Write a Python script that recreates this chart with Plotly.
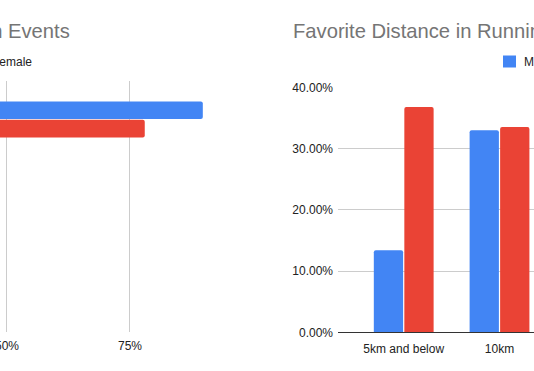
import plotly.graph_objects as go

W, H = 534, 371
BLUE = "#4285F4"
RED = "#EA4335"

# Left chart (horizontal bars) - only the visible category
left_categories = ["Events"]
left_male = [0.898]
left_female = [0.780]

# Right chart (columns)
right_categories = ["5km and below", "10km"]
right_male = [0.134, 0.330]
right_female = [0.368, 0.335]

left_ticks = [0.50, 0.75]
left_ticklabels = ["50%", "75%"]
right_ticks = [0.0, 0.10, 0.20, 0.30, 0.40]
right_ticklabels = ["0.00%", "10.00%", "20.00%", "30.00%", "40.00%"]

def px(x):
    return x / W

def py(y):
    return 1 - y / H

fig = go.Figure()
fig.add_trace(go.Bar(y=left_categories, x=left_male, orientation="h", name="Male",
                     marker=dict(color=BLUE, cornerradius=2, line=dict(width=0)), xaxis="x", yaxis="y"))
fig.add_trace(go.Bar(y=left_categories, x=left_female, orientation="h", name="Female",
                     marker=dict(color=RED, cornerradius=2, line=dict(width=0)), xaxis="x", yaxis="y"))
fig.add_trace(go.Bar(x=right_categories, y=right_male, name="Male",
                     marker=dict(color=BLUE, cornerradius=2, line=dict(width=0)), xaxis="x2", yaxis="y2"))
fig.add_trace(go.Bar(x=right_categories, y=right_female, name="Female",
                     marker=dict(color=RED, cornerradius=2, line=dict(width=0)), xaxis="x2", yaxis="y2"))

font = "Arial, Liberation Sans, sans-serif"

fig.update_layout(
    template="none",
    width=W, height=H, autosize=False,
    margin=dict(l=0, r=0, t=0, b=0, pad=0),
    paper_bgcolor="white", plot_bgcolor="white",
    showlegend=False, hovermode=False,
    barmode="group", bargap=0.363, bargroupgap=0.04,
    font=dict(family=font, size=12, color="#222222"),
    xaxis=dict(domain=[0, px(250)], range=[0.4858, 0.9939], automargin=False,
               tickvals=left_ticks, ticktext=left_ticklabels,
               ticklabeloverflow="allow",
               showgrid=True, gridcolor="#cccccc", gridwidth=1,
               zeroline=False, showline=False, ticks="", ticklabelstandoff=5,
               anchor="y"),
    yaxis=dict(domain=[py(332), py(81)], range=[3.69, -0.667], automargin=False,
               showticklabels=False, showgrid=False, zeroline=False,
               showline=False, ticks="", anchor="x"),
    xaxis2=dict(domain=[px(338), 1], range=[-0.686, 1.36], automargin=False,
                ticklabeloverflow="allow",
                showgrid=False, zeroline=False, showline=True,
                linecolor="#333333", linewidth=1, ticks="",
                ticklabelstandoff=5, anchor="y2"),
    yaxis2=dict(domain=[py(332.3), py(87.3)], range=[0, 0.40], automargin=False,
                tickvals=right_ticks, ticktext=right_ticklabels,
                showgrid=True, gridcolor="#cccccc", gridwidth=1,
                zeroline=False, showline=False, ticks="",
                ticklabelstandoff=4, anchor="x2"),
)

annotations = [
    dict(text="Participation in Events", x=px(72), y=py(31.5), xref="paper", yref="paper",
         xanchor="right", yanchor="middle", showarrow=False,
         font=dict(size=20.2, color="#757575", family=font)),
    dict(text="Favorite Distance in Running", x=px(291), y=py(31.5), xref="paper", yref="paper",
         xanchor="left", yanchor="middle", showarrow=False,
         font=dict(size=20.2, color="#757575", family=font)),
    dict(text="Female", x=px(34), y=py(62), xref="paper", yref="paper",
         xanchor="right", yanchor="middle", showarrow=False,
         font=dict(size=12, color="#222222", family=font)),
    dict(text="Male", x=px(522), y=py(62), xref="paper", yref="paper",
         xanchor="left", yanchor="middle", showarrow=False,
         font=dict(size=12, color="#222222", family=font)),
]
fig.update_layout(annotations=annotations)

fig.add_shape(type="rect", xref="paper", yref="paper",
              x0=px(503), x1=px(516), y0=py(67.5), y1=py(55.5),
              fillcolor=BLUE, line=dict(width=0))

fig.write_html("out.html", config={"displayModeBar": False, "staticPlot": True},
               post_script="document.body.style.margin='0px';")
